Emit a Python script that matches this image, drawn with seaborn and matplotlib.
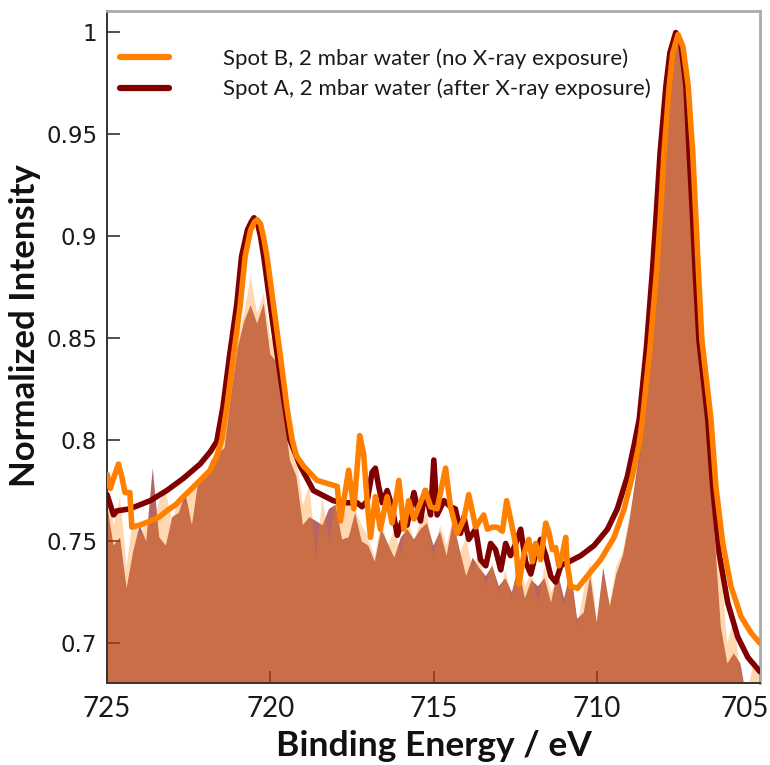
import matplotlib
matplotlib.use("Agg")
import matplotlib.pyplot as plt
import matplotlib.transforms as mtransforms
from matplotlib.lines import Line2D
import seaborn as sns

# ---------------- data ----------------
# raw (noisy) spectra on a 0.2 eV grid, drawn as filled areas
energy_raw = [725.0, 724.8, 724.6, 724.4, 724.2, 724.0, 723.8, 723.6, 723.4, 723.2,
              723.0, 722.8, 722.6, 722.4, 722.2, 722.0, 721.8, 721.6, 721.4, 721.2,
              721.0, 720.8, 720.6, 720.4, 720.2, 720.0, 719.8, 719.6, 719.4, 719.2,
              719.0, 718.8, 718.6, 718.4, 718.2, 718.0, 717.8, 717.6, 717.4, 717.2,
              717.0, 716.8, 716.6, 716.4, 716.2, 716.0, 715.8, 715.6, 715.4, 715.2,
              715.0, 714.8, 714.6, 714.4, 714.2, 714.0, 713.8, 713.6, 713.4, 713.2,
              713.0, 712.8, 712.6, 712.4, 712.2, 712.0, 711.8, 711.6, 711.4, 711.2,
              711.0, 710.8, 710.6, 710.4, 710.2, 710.0, 709.8, 709.6, 709.4, 709.2,
              709.0, 708.8, 708.6, 708.4, 708.2, 708.0, 707.8, 707.6, 707.4, 707.2,
              707.0, 706.8, 706.6, 706.4, 706.2, 706.0, 705.8, 705.6, 705.4, 705.2,
              705.0]
raw_spot_b = [0.778, 0.758, 0.772, 0.738, 0.762, 0.752, 0.760, 0.758, 0.770, 0.774,
              0.760, 0.772, 0.768, 0.778, 0.776, 0.784, 0.786, 0.790, 0.800, 0.828,
              0.850, 0.862, 0.880, 0.862, 0.872, 0.850, 0.848, 0.822, 0.800, 0.790,
              0.768, 0.778, 0.742, 0.772, 0.750, 0.770, 0.760, 0.770, 0.766, 0.758,
              0.752, 0.742, 0.760, 0.748, 0.756, 0.744, 0.762, 0.750, 0.760, 0.764,
              0.742, 0.758, 0.748, 0.762, 0.744, 0.752, 0.736, 0.745, 0.728, 0.740,
              0.724, 0.736, 0.722, 0.742, 0.728, 0.735, 0.720, 0.738, 0.725, 0.732,
              0.718, 0.740, 0.708, 0.726, 0.740, 0.712, 0.733, 0.720, 0.738, 0.745,
              0.762, 0.778, 0.800, 0.842, 0.875, 0.920, 0.965, 0.995, 0.990, 0.962,
              0.910, 0.850, 0.810, 0.765, 0.738, 0.700, 0.712, 0.685, 0.675, 0.690,
              0.688]
raw_spot_a = [0.768, 0.748, 0.752, 0.727, 0.745, 0.758, 0.750, 0.786, 0.752, 0.748,
              0.762, 0.764, 0.774, 0.758, 0.780, 0.782, 0.790, 0.793, 0.796, 0.822,
              0.845, 0.858, 0.866, 0.857, 0.867, 0.842, 0.838, 0.815, 0.790, 0.782,
              0.758, 0.762, 0.760, 0.758, 0.766, 0.768, 0.751, 0.752, 0.764, 0.750,
              0.748, 0.740, 0.756, 0.749, 0.742, 0.752, 0.756, 0.751, 0.756, 0.759,
              0.748, 0.755, 0.743, 0.760, 0.746, 0.733, 0.742, 0.737, 0.733, 0.738,
              0.728, 0.732, 0.725, 0.738, 0.722, 0.731, 0.728, 0.732, 0.720, 0.735,
              0.722, 0.736, 0.712, 0.715, 0.733, 0.710, 0.737, 0.718, 0.734, 0.743,
              0.760, 0.782, 0.806, 0.850, 0.880, 0.940, 0.975, 0.996, 0.991, 0.955,
              0.880, 0.830, 0.800, 0.755, 0.708, 0.690, 0.695, 0.690, 0.672, 0.668,
              0.665]

# Spot B line (orange)
energy_b = [725.00, 724.90, 724.80, 724.65, 724.55, 724.45, 724.30, 724.24, 724.00, 723.68,
            723.40, 723.17, 722.90, 722.66, 722.40, 722.15, 721.84, 721.64, 721.48, 721.33,
            721.13, 720.92, 720.77, 720.60, 720.48, 720.40, 720.30, 720.20, 720.10, 719.90,
            719.69, 719.49, 719.33, 719.20, 718.98, 718.57, 717.95, 717.85, 717.60, 717.44,
            717.26, 717.14, 717.03, 716.93, 716.78, 716.63, 716.42, 716.27, 716.06, 715.91,
            715.76, 715.60, 715.40, 715.25, 715.09, 714.89, 714.63, 714.48, 714.27, 714.07,
            713.92, 713.71, 713.46, 713.35, 713.20, 713.05, 712.89, 712.76, 712.64, 712.48,
            712.38, 712.23, 712.08, 711.97, 711.87, 711.72, 711.56, 711.46, 711.36, 711.26,
            711.16, 711.06, 710.95, 710.90, 710.80, 710.59, 710.29, 709.88, 709.47, 709.16,
            708.91, 708.70, 708.60, 708.37, 708.16, 708.06, 707.94, 707.78, 707.67, 707.51,
            707.36, 707.20, 707.06, 706.96, 706.89, 706.78, 706.50, 706.35, 706.14, 705.89,
            705.58, 705.27, 705.00]
intensity_b = [0.783, 0.776, 0.781, 0.788, 0.782, 0.774, 0.774, 0.757, 0.758, 0.760,
               0.762, 0.765, 0.768, 0.772, 0.776, 0.780, 0.785, 0.792, 0.800, 0.816,
               0.841, 0.866, 0.890, 0.903, 0.907, 0.908, 0.906, 0.899, 0.890, 0.866,
               0.841, 0.816, 0.800, 0.792, 0.787, 0.780, 0.777, 0.760, 0.785, 0.766,
               0.802, 0.793, 0.769, 0.752, 0.772, 0.756, 0.772, 0.759, 0.780, 0.756,
               0.770, 0.761, 0.769, 0.775, 0.767, 0.766, 0.786, 0.767, 0.754, 0.761,
               0.773, 0.757, 0.763, 0.756, 0.757, 0.757, 0.755, 0.770, 0.761, 0.748,
               0.729, 0.744, 0.751, 0.740, 0.749, 0.741, 0.759, 0.754, 0.746, 0.747,
               0.738, 0.743, 0.752, 0.738, 0.728, 0.727, 0.733, 0.741, 0.752, 0.766,
               0.782, 0.798, 0.810, 0.845, 0.884, 0.908, 0.941, 0.974, 0.990, 0.999,
               0.993, 0.974, 0.941, 0.908, 0.884, 0.849, 0.810, 0.777, 0.749, 0.728,
               0.713, 0.705, 0.700]

# Spot A line (dark red)
energy_a = [725.00, 724.90, 724.80, 724.70, 724.30, 723.68, 723.17, 722.66, 722.15, 721.84,
            721.64, 721.45, 721.25, 721.03, 720.88, 720.70, 720.58, 720.50, 720.40, 720.30,
            720.20, 720.00, 719.78, 719.58, 719.40, 719.08, 718.68, 718.07, 717.75, 717.58,
            717.34, 717.19, 717.03, 716.88, 716.78, 716.68, 716.57, 716.42, 716.27, 716.11,
            715.96, 715.81, 715.60, 715.40, 715.25, 715.09, 714.99, 714.89, 714.68, 714.48,
            714.33, 714.17, 714.07, 713.92, 713.71, 713.56, 713.40, 713.25, 713.10, 712.94,
            712.79, 712.64, 712.48, 712.33, 712.18, 712.02, 711.87, 711.72, 711.56, 711.41,
            711.26, 711.10, 711.00, 710.85, 710.49, 710.08, 709.67, 709.37, 709.06, 708.86,
            708.70, 708.48, 708.29, 708.19, 708.06, 707.88, 707.76, 707.58, 707.42, 707.27,
            707.17, 707.06, 706.99, 706.87, 706.60, 706.45, 706.25, 705.99, 705.68, 705.37,
            705.00]
intensity_a = [0.773, 0.768, 0.763, 0.765, 0.766, 0.770, 0.775, 0.781, 0.788, 0.794,
               0.799, 0.816, 0.841, 0.866, 0.890, 0.903, 0.907, 0.909, 0.907, 0.900,
               0.890, 0.866, 0.841, 0.819, 0.800, 0.787, 0.775, 0.770, 0.769, 0.769,
               0.769, 0.767, 0.770, 0.784, 0.786, 0.777, 0.769, 0.775, 0.767, 0.753,
               0.760, 0.758, 0.774, 0.760, 0.775, 0.763, 0.790, 0.763, 0.770, 0.767,
               0.766, 0.754, 0.762, 0.751, 0.756, 0.741, 0.738, 0.749, 0.746, 0.736,
               0.749, 0.743, 0.749, 0.756, 0.740, 0.734, 0.744, 0.751, 0.743, 0.733,
               0.730, 0.738, 0.739, 0.740, 0.743, 0.748, 0.756, 0.766, 0.782, 0.797,
               0.810, 0.845, 0.884, 0.908, 0.941, 0.974, 0.990, 1.000, 0.994, 0.974,
               0.941, 0.908, 0.884, 0.849, 0.810, 0.777, 0.744, 0.720, 0.703, 0.693,
               0.686]

label_b = "Spot B, 2 mbar water (no X-ray exposure)"
label_a = "Spot A, 2 mbar water (after X-ray exposure)"
x_ticks = [725, 720, 715, 710, 705]
y_ticks = [0.7, 0.75, 0.8, 0.85, 0.9, 0.95, 1.0]
y_tick_labels = ["0.7", "0.75", "0.8", "0.85", "0.9", "0.95", "1"]

# ---------------- style ----------------
sns.set_theme(style="white")
plt.rcParams["font.family"] = ["Lato", "DejaVu Sans"]

color_b = "#FF8000"
color_a = "#800000"

fig = plt.figure(figsize=(7.7, 7.65), dpi=100)
ax = fig.add_axes([0.139, 0.1068, 0.848, 0.8792])

# filled raw spectra
ax.fill_between(energy_raw, 0.6, raw_spot_a, color=color_a, alpha=0.6, lw=0, zorder=1)
ax.fill_between(energy_raw, 0.6, raw_spot_b, color=color_b, alpha=0.31, lw=0, zorder=2)

# lines
sns.lineplot(x=energy_a, y=intensity_a, color=color_a, linewidth=4.0, ax=ax,
             estimator=None, sort=False, zorder=3)
sns.lineplot(x=energy_b, y=intensity_b, color=color_b, linewidth=4.0, ax=ax,
             estimator=None, sort=False, zorder=4)

ax.set_xlim(725, 705)
ax.set_ylim(0.6803, 1.0107)

ax.set_xticks(x_ticks)
ax.set_xticklabels([str(t) for t in x_ticks])
ax.set_yticks(y_ticks)
ax.set_yticklabels(y_tick_labels)
ax.tick_params(axis="both", direction="in", length=9, width=1.2, color="#333333",
               left=True, bottom=True, top=False, right=False)
ax.tick_params(axis="x", pad=9)
ax.tick_params(axis="y", pad=7)

for lab in ax.get_xticklabels():
    lab.set_fontfamily("Lato")
    lab.set_fontsize(20)
    lab.set_color("#1a1a1a")
for lab in ax.get_yticklabels():
    lab.set_fontfamily("DejaVu Sans")
    lab.set_fontsize(16.5)
    lab.set_color("#1a1a1a")

# shift last x tick label so it stays inside the figure
last = ax.get_xticklabels()[-1]
last.set_transform(last.get_transform() +
                   mtransforms.ScaledTranslation(-0.15, 0, fig.dpi_scale_trans))

ax.set_xlabel("Binding Energy / eV", fontsize=25.5, fontweight="bold", labelpad=6,
              color="#111111")
ax.set_ylabel("Normalized Intensity", fontsize=25, fontweight="bold",
              color="#111111")
ax.yaxis.set_label_coords(-0.101, 0.532)

for side in ["left", "bottom"]:
    ax.spines[side].set_color("#333333")
    ax.spines[side].set_linewidth(1.4)
for side in ["top", "right"]:
    ax.spines[side].set_color("#aaaaaa")
    ax.spines[side].set_linewidth(2.0)

handles = [Line2D([], [], color=color_b, lw=4.5),
           Line2D([], [], color=color_a, lw=4.5)]
ax.legend(handles, [label_b, label_a], loc="upper left", bbox_to_anchor=(0.0, 0.964),
          frameon=False, fontsize=16, handlelength=2.2, handletextpad=2.4,
          labelspacing=0.45, borderaxespad=0.2, borderpad=0.4, labelcolor="#1a1a1a")

fig.savefig("out.png", dpi=100)
